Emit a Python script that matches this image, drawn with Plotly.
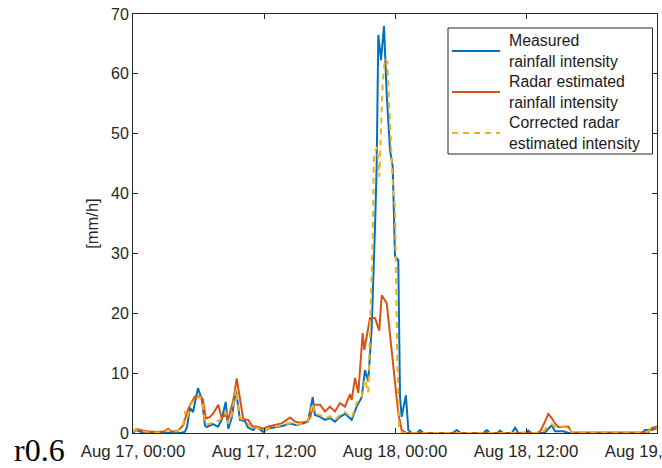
import pandas as pd
import plotly.graph_objects as go

# ---- data (hours after Aug 17 00:00, intensity mm/h) ----
measured_h = [0.0, 0.27, 0.55, 1.1, 4.4, 4.76, 4.95, 5.22, 5.5, 5.95, 6.32, 6.6, 6.75, 7.33, 7.79,
              8.12, 8.49, 8.73, 9.04, 9.43, 9.8, 10.26, 10.53, 11.0, 11.33, 11.9, 12.55, 13.16,
              13.74, 14.38, 15.0, 15.57, 16.03, 16.46, 16.67, 17.13, 17.59, 18.04, 18.5, 18.96,
              19.42, 20.03, 20.49, 20.95, 21.25, 21.55, 21.87, 22.17, 22.32, 22.47, 22.72, 22.99,
              23.24, 23.54, 23.79, 24.0, 24.3, 24.46, 24.61, 25.0, 25.22, 25.53, 26.0, 26.3, 26.6,
              29.3, 29.65, 30.0, 32.1, 32.4, 32.7, 33.4, 33.62, 33.9, 34.7, 35.0, 35.3, 36.0, 36.2,
              36.5, 37.7, 38.0, 38.35, 38.66, 39.42, 39.9, 46.6, 46.9, 47.5, 48.0]
measured_v = [0.0, 0.5, 0.3, 0.0, 0.0, 0.2, 1.0, 4.2, 3.5, 7.5, 5.5, 1.2, 1.0, 1.5, 1.05,
              2.2, 5.2, 0.7, 2.5, 7.2, 2.2, 2.0, 0.9, 0.5, 1.0, 0.2, 0.8, 1.0,
              1.2, 1.6, 1.3, 1.6, 1.9, 6.0, 3.0, 2.7, 2.2, 2.5, 1.9, 2.7,
              3.2, 2.2, 4.4, 6.0, 10.5, 8.6, 17.8, 34.5, 44.5, 66.5, 62.3, 68.0,
              56.7, 47.3, 44.5, 29.5, 28.9, 6.0, 2.7, 6.3, 0.5, 0.0, 0.0, 0.5, 0.0,
              0.0, 0.5, 0.0, 0.0, 0.5, 0.0, 0.0, 0.4, 0.0, 0.0, 0.9, 0.0, 0.1, 0.4,
              0.0, 0.0, 0.6, 1.3, 0.3, 0.3, 0.0, 0.0, 0.5, 0.5, 0.8]

radar_h = [0.0, 0.34, 0.92, 1.56, 2.75, 3.23, 3.54, 4.12, 4.6, 4.92, 5.22, 5.68, 6.14, 6.38, 6.69,
           7.05, 7.36, 7.81, 8.12, 8.43, 8.73, 9.19, 9.5, 9.8, 10.1, 10.56, 10.96, 11.33, 11.91,
           12.39, 13.0, 13.62, 14.08, 14.38, 14.84, 15.3, 15.91, 16.21, 16.37, 16.58, 17.13,
           17.59, 18.04, 18.5, 18.96, 19.42, 19.88, 20.03, 20.34, 20.64, 21.04, 21.19, 21.71,
           22.17, 22.56, 22.78, 23.24, 23.7, 24.0, 24.3, 24.61, 25.07, 37.0, 37.28, 37.74, 38.04,
           38.35, 38.66, 38.96, 39.42, 39.87, 40.18, 47.2, 47.51, 48.0]
radar_v = [0.3, 0.7, 0.4, 0.2, 0.2, 0.7, 0.2, 0.4, 1.3, 3.3, 4.7, 6.1, 6.1, 5.7, 2.4,
           2.7, 3.3, 4.7, 2.5, 3.0, 2.3, 5.5, 9.1, 5.5, 2.3, 2.2, 1.05, 1.1, 0.7,
           1.1, 1.3, 1.6, 2.2, 2.6, 1.9, 1.7, 1.9, 2.5, 3.6, 4.7, 4.7,
           3.6, 4.4, 3.6, 5.0, 4.4, 6.5, 5.5, 9.2, 6.7, 16.7, 13.9, 19.2,
           19.2, 17.1, 23.0, 21.7, 13.9, 8.9, 3.3, 0.5, 0.0, 0.0, 0.2, 1.9, 3.2,
           2.5, 1.6, 1.0, 1.0, 1.1, 0.1, 0.1, 0.8, 1.1]

corrected_h = [0.0, 0.34, 0.92, 1.56, 2.75, 3.23, 3.54, 4.12, 4.6, 4.76, 5.0, 5.22, 5.68, 6.14, 6.38,
               6.6, 7.05, 7.36, 7.81, 8.12, 8.49, 8.73, 9.04, 9.43, 9.8, 10.26, 10.56, 11.0, 11.33,
               11.9, 12.55, 13.16, 13.74, 14.38, 15.0, 15.57, 16.03, 16.46, 16.67, 17.13, 17.59,
               18.04, 18.5, 18.96, 19.42, 20.03, 20.49, 20.95, 21.25, 21.55, 21.95, 22.07, 22.38,
               22.56, 22.87, 23.08, 23.29, 23.54, 23.84, 24.0, 24.21, 24.39, 24.7, 37.3, 37.7,
               38.04, 38.35, 38.66, 39.42, 39.87, 40.18, 46.9, 47.5, 48.0]
corrected_v = [0.2, 0.6, 0.3, 0.1, 0.1, 0.5, 0.1, 0.3, 1.5, 3.6, 2.5, 4.5, 5.8, 6.0, 5.0,
               1.5, 1.5, 2.0, 2.0, 2.5, 3.5, 1.5, 3.0, 7.3, 2.5, 2.0, 1.5, 0.6, 0.9,
               0.3, 0.8, 1.1, 1.3, 1.7, 1.4, 1.6, 2.0, 5.0, 3.2, 3.0, 2.4,
               2.8, 2.2, 3.0, 3.5, 2.5, 5.0, 6.0, 9.0, 6.7, 32.0, 46.7, 47.8,
               42.8, 58.4, 62.6, 62.0, 51.0, 40.0, 37.8, 12.2, 0.5, 0.0, 0.0, 0.5,
               1.2, 1.5, 1.0, 1.0, 1.1, 0.1, 0.1, 0.5, 0.8]

series_names = ["Measured<br>rainfall intensity",
                "Radar estimated<br>rainfall intensity",
                "Corrected radar<br>estimated intensity"]
series_colors = ["#0072BD", "#D95319", "#EDB120"]
series_dash = ["solid", "solid", "6px,5px"]
y_ticks = [0, 10, 20, 30, 40, 50, 60, 70]

start = pd.Timestamp("2016-08-17 00:00")
end = pd.Timestamp("2016-08-19 00:00")


def to_time(hours):
    return [start + pd.Timedelta(hours=h) for h in hours]


x_ticks = [start + pd.Timedelta(hours=12 * i) for i in range(5)]

fig = go.Figure()
for hrs, vals, name, col, dash in zip([measured_h, radar_h, corrected_h],
                                      [measured_v, radar_v, corrected_v],
                                      series_names, series_colors, series_dash):
    fig.add_trace(go.Scatter(x=to_time(hrs), y=vals, mode="lines", name=name,
                             showlegend=False,
                             line=dict(color=col, width=2, dash=dash)))

axis_color = "#262626"
W, H = 662, 468
ML, MR, MT, MB = 133, 5, 14, 35
PW, PH = W - ML - MR, H - MT - MB


def px_x(px):
    return (px - ML) / PW


def px_y(py):
    return (H - MB - py) / PH


fig.update_layout(
    width=W, height=H,
    margin=dict(l=ML, r=MR, t=MT, b=MB),
    paper_bgcolor="white", plot_bgcolor="white",
    font=dict(family="Liberation Sans, Arial, sans-serif", size=16, color=axis_color),
    showlegend=False,
    xaxis=dict(range=[start, end], tickvals=x_ticks, tickformat="%b %d, %H:%M",
               ticks="inside", ticklen=5, tickcolor=axis_color, showline=True,
               linecolor=axis_color, linewidth=1, mirror="ticks", showgrid=False,
               zeroline=False, tickfont=dict(size=16.8), automargin=False,
               ticklabeloverflow="allow", ticklabelstandoff=3),
    yaxis=dict(range=[0, 70], tickvals=y_ticks, ticks="inside", ticklen=5,
               tickcolor=axis_color, showline=True, linecolor=axis_color, linewidth=1,
               mirror="ticks", showgrid=False, zeroline=False, tickfont=dict(size=16),
               title=dict(text="[mm/h]", standoff=8, font=dict(size=16.5)),
               automargin=False),
)

# ---- legend box (drawn manually to match the original layout) ----
fig.add_shape(type="rect", xref="paper", yref="paper",
              x0=px_x(448), x1=px_x(652.5), y0=px_y(154), y1=px_y(28),
              line=dict(color=axis_color, width=1), fillcolor="white", layer="above")
entry_y = [51, 92, 133]
for name, col, dash, ey in zip(series_names, series_colors, series_dash, entry_y):
    fig.add_shape(type="line", xref="paper", yref="paper",
                  x0=px_x(452), x1=px_x(500), y0=px_y(ey), y1=px_y(ey),
                  line=dict(color=col, width=2, dash=dash), layer="above")
    fig.add_annotation(text=name, xref="paper", yref="paper", x=px_x(507), y=px_y(ey),
                       xanchor="left", yanchor="middle", align="left", showarrow=False,
                       font=dict(size=15.8, color="#1a1a1a"))

fig.add_annotation(text="r0.6", xref="paper", yref="paper", x=px_x(12), y=px_y(450),
                   xanchor="left", yanchor="middle", showarrow=False,
                   font=dict(family="Liberation Serif, Times New Roman, serif", size=32,
                             color="black"))

fig.write_html("out.html")
